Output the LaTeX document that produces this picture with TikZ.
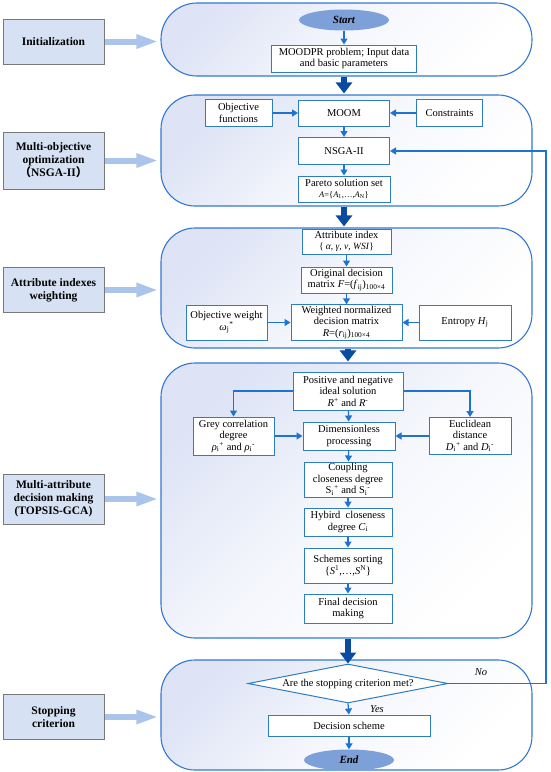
\documentclass[tikz,border=0pt]{standalone}
\usepackage{fontspec}
\setmainfont{Liberation Serif}
\newfontfamily\cjk{Noto Sans CJK SC}
\usetikzlibrary{arrows.meta,shapes.geometric}
\definecolor{rectline}{RGB}{50,120,210}
\definecolor{boxline}{RGB}{46,125,190}
\definecolor{flowc}{RGB}{30,115,210}
\definecolor{bigc}{RGB}{10,75,160}
\definecolor{lightc}{RGB}{170,196,236}
\definecolor{labfill}{RGB}{214,226,244}
\definecolor{labline}{RGB}{120,120,120}
\definecolor{termfill}{RGB}{125,160,216}
\definecolor{bgtint}{RGB}{222,228,246}
\newcommand\mysub[1]{\textsubscript{#1}}
\newcommand\mysup[1]{\textsuperscript{#1}}
\begin{document}
\begin{tikzpicture}[x=1pt,y=-1pt,
  stage/.style={draw=rectline, line width=1.1pt, rounded corners=34pt, top color=bgtint, bottom color=white, middle color=white!70!bgtint, shading angle=45, inner sep=0pt, minimum width=371pt},
  box/.style={draw=boxline, line width=1pt, fill=white, align=center, inner sep=1pt, font=\fontsize{10.5}{11.5}\selectfont},
  lab/.style={draw=labline, fill=labfill, line width=1pt, align=center, font=\bfseries\fontsize{11.5}{13}\selectfont, minimum width=101pt, inner sep=1pt},
  term/.style={ellipse, fill=termfill, font=\bfseries\itshape\fontsize{11}{12}\selectfont, inner sep=0pt, minimum width=90pt, minimum height=21pt},
  flow/.style={draw=flowc, line width=1.2pt, -{Triangle[width=7pt,length=6pt]}},
  bigarrow/.style={draw=bigc, line width=6pt, -{Triangle[width=16pt,length=11pt]}},
  lightarrow/.style={draw=lightc, line width=6pt, -{Triangle[width=13pt,length=22pt]}},
  note/.style={font=\itshape\fontsize{10.5}{12}\selectfont, inner sep=0pt}
]
\useasboundingbox (0,0) rectangle (550,772);

% stage containers
\node[stage, rounded corners=36pt, minimum height=73pt] (r1) at (346.5,39.5) {};
\node[stage, minimum height=111pt] (r2) at (346.5,150.5) {};
\node[stage, minimum height=120pt] (r3) at (346.5,288) {};
\node[stage, minimum height=275pt] (r4) at (346.5,500.5) {};
\node[stage, minimum height=110pt] (r5) at (346.5,715) {};

% left labels
\node[lab, minimum height=45pt] (l1) at (53.5,41.5) {Initialization};
\node[lab, minimum height=57pt] (l2) at (53.5,160.5) {Multi-objective\\optimization\\{\cjk （}NSGA-II{\cjk ）}};
\node[lab, minimum height=45pt] (l3) at (53.5,290) {Attribute indexes\\weighting};
\node[lab, minimum height=50pt] (l4) at (53.5,499) {Multi-attribute\\decision making\\(TOPSIS-GCA)};
\node[lab, minimum height=45pt] (l5) at (53.5,717) {Stopping\\criterion};

\foreach \l/\r in {l1/r1,l2/r2,l3/r3,l4/r4,l5/r5}
  \draw[lightarrow] (\l.east) -- ([xshift=-2pt]\l.east -| \r.west);

% stage 1
\node[term] (start) at (344,20) {Start};
\node[box, minimum width=145pt, minimum height=27pt] (moodpr) at (344,58.5) {MOODPR problem; Input data\\and basic parameters};

% stage 2
\node[box, minimum width=67pt, minimum height=27pt] (objf) at (238.5,113) {Objective\\functions};
\node[box, minimum width=91pt, minimum height=26pt] (moom) at (344,113) {MOOM};
\node[box, minimum width=66pt, minimum height=27pt] (cons) at (449.5,113) {Constraints};
\node[box, minimum width=91pt, minimum height=27pt] (nsga) at (344,151) {NSGA-II};
\node[box, minimum width=92pt, minimum height=26pt] (pareto) at (344,189) {Pareto solution set\\{\fontsize{8.5}{9.5}\selectfont\textit{A}=\{\textit{A}\mysub{1},…,\textit{A}\mysub{N}\}}};

% stage 3
\node[box, minimum width=89pt, minimum height=25pt] (attr) at (346.5,241.5) {Attribute index\\{\fontsize{9.5}{10.5}\selectfont\{ \textit{α}, \textit{γ}, \textit{ν}, \textit{WSI}\}}};
\node[box, minimum width=91pt, minimum height=26pt] (orig) at (346.5,280) {Original decision\\matrix \textit{F}=(\textit{f}\mysub{ij})\mysub{100×4}};
\node[box, minimum width=111pt, minimum height=35pt] (wnd) at (346.5,322.5) {Weighted normalized\\decision matrix\\\textit{R}=(\textit{r}\mysub{ij})\mysub{100×4}};
\node[box, minimum width=81pt, minimum height=35pt] (objw) at (226.5,322.5) {Objective weight\\\textit{ω}\mysub{j}\mysup{*}};
\node[box, minimum width=92pt, minimum height=35pt] (entr) at (465,322.5) {Entropy \textit{H}\mysub{j}};

% stage 4
\node[box, minimum width=110pt, minimum height=38pt] (pos) at (348,391) {Positive and negative\\ideal solution\\\textit{R}\mysup{+} and \textit{R}\mysup{-}};
\node[box, minimum width=81pt, minimum height=38pt] (grey) at (233.5,436) {Grey correlation\\degree\\\textit{ρ}\mysub{i}\mysup{+} and \textit{ρ}\mysub{i}\mysup{-}};
\node[box, minimum width=92pt, minimum height=28pt] (dim) at (349,436) {Dimensionless\\processing};
\node[box, minimum width=82pt, minimum height=37pt] (eucl) at (470,436) {Euclidean\\distance\\\textit{D}\mysub{i}\mysup{+} and \textit{D}\mysub{i}\mysup{-}};
\node[box, minimum width=88pt, minimum height=35pt] (coup) at (348,479.5) {Coupling\\closeness degree\\S\mysub{i}\mysup{+} and S\mysub{i}\mysup{-}};
\node[box, minimum width=88pt, minimum height=28pt] (hyb) at (348,522) {Hybird\ \ closeness\\degree \textit{C}\mysub{i}};
\node[box, minimum width=88pt, minimum height=35pt] (sch) at (348,565.5) {Schemes sorting\\\{\textit{S}\mysup{1},…,\textit{S}\mysup{N}\}};
\node[box, minimum width=88pt, minimum height=29pt] (fin) at (348,608.5) {Final decision\\making};

% stage 5
\node[diamond, draw=boxline, line width=1pt, fill=white, inner sep=0pt, aspect=5, minimum width=200pt, minimum height=39pt] (dia) at (348,683.5) {};
\node[font=\fontsize{10.5}{11.5}\selectfont, inner sep=0pt] (diat) at (dia.center) {Are the stopping criterion met?};
\node[box, minimum width=162pt, minimum height=21pt] (dec) at (349,725.5) {Decision scheme};
\node[term] (end) at (349,760) {End};
\node[note] (no) at (481,672) {No};
\node[note] (yes) at (377,709.5) {Yes};
\coordinate (fb) at (546,683.5);

% thin flow arrows
\draw[flow] (start) -- (moodpr);
\draw[flow] (objf.east) -- (moom.west);
\draw[flow] (cons.west) -- (moom.east);
\draw[flow] (moom) -- (nsga);
\draw[flow] (nsga) -- (pareto);
\draw[flow] (attr) -- (orig);
\draw[flow] (orig) -- (wnd);
\draw[flow] (objw.east) -- (wnd.west);
\draw[flow] (entr.west) -- (wnd.east);
\draw[flow] (pos.west) -| (grey.north);
\draw[flow] (pos.east) -| (eucl.north);
\draw[flow] (pos) -- (dim);
\draw[flow] (grey.east) -- (dim.west);
\draw[flow] (eucl.west) -- (dim.east);
\draw[flow] (dim) -- (coup);
\draw[flow] (coup) -- (hyb);
\draw[flow] (hyb) -- (sch);
\draw[flow] (sch) -- (fin);
\draw[flow] (dia.south) -- (dec.north);
\draw[flow] (dec) -- (end);
\draw[flow] (dia.east) -- (fb) |- (nsga.east);

% thick stage arrows
\draw[bigarrow] (moodpr.south |- r1.south) -- ([yshift=1pt]moodpr.south |- r2.north);
\draw[bigarrow] (pareto.south |- r2.south) -- ([yshift=1pt]pareto.south |- r3.north);
\draw[bigarrow] (pos.north |- r3.south) -- ([yshift=1pt]pos.north |- r4.north);
\draw[bigarrow] (dia.north |- r4.south) -- (dia.north);
\end{tikzpicture}
\end{document}
